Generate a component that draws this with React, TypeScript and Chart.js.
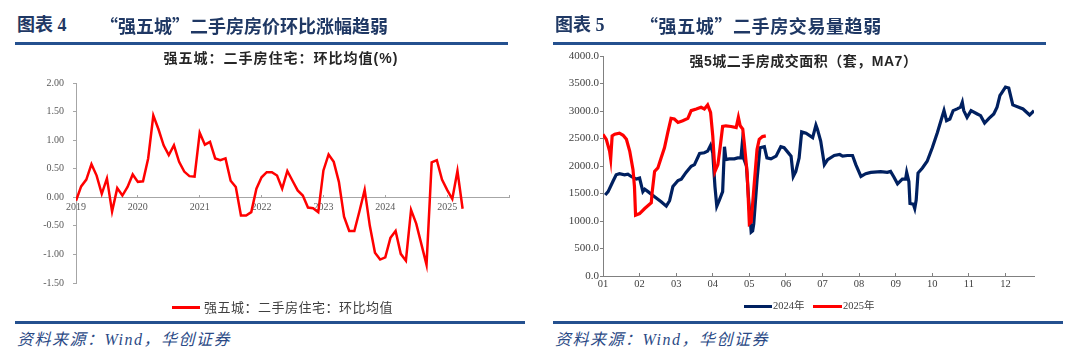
import React, { useEffect, useRef } from 'react';
import { Chart, registerables } from 'chart.js';

Chart.register(...registerables);

// ---------- Left chart data (monthly, 2019-01 .. 2025-04) ----------
const yearLabels = ['2019', '2020', '2021', '2022', '2023', '2024', '2025'];
const priceMoM = [
  -0.06, 0.19, 0.31, 0.58, 0.38, 0.06, 0.33, -0.25, 0.16, 0.03, 0.18, 0.40,
  0.27, 0.28, 0.68, 1.43, 1.19, 0.91, 0.74, 0.91, 0.62, 0.45, 0.37, 0.36,
  1.13, 0.92, 0.97, 0.68, 0.65, 0.68, 0.29, 0.18, -0.32, -0.32, -0.26, 0.15,
  0.35, 0.44, 0.44, 0.38, 0.15, 0.46, 0.29, 0.12, 0.03, -0.18, -0.19, -0.26,
  0.47, 0.75, 0.62, 0.27, -0.34, -0.59, -0.59, -0.24, 0.13, -0.50, -0.97, -1.09,
  -1.05, -0.71, -0.59, -0.99, -1.11, -0.22, -0.46, -0.82, -1.18, 0.61, 0.65, 0.31,
  0.13, -0.03, 0.46, -0.20,
];
const leftSeriesName = '强五城：二手房住宅：环比均值';

// ---------- Right chart data (time in months since Jan 1) ----------
const monthLabels = ['01', '02', '03', '04', '05', '06', '07', '08', '09', '10', '11', '12'];
const t2024 = [
  0.06, 0.14, 0.27, 0.36, 0.45, 0.59, 0.68, 0.77, 0.91, 1.00, 1.09, 1.14, 1.23, 1.41, 1.59, 1.73,
  1.82, 1.91, 2.05, 2.14, 2.27, 2.41, 2.50, 2.64, 2.77, 2.86, 2.94, 3.00, 3.06, 3.11, 3.18, 3.27,
  3.32, 3.36, 3.45, 3.59, 3.68, 3.77, 3.80, 3.84, 3.92, 3.98, 4.05, 4.09, 4.12, 4.21, 4.29, 4.41,
  4.48, 4.59, 4.73, 4.86, 4.95, 5.05, 5.14, 5.20, 5.27, 5.36, 5.43, 5.55, 5.73, 5.82, 5.86, 5.95,
  6.05, 6.14, 6.32, 6.47, 6.55, 6.68, 6.82, 6.91, 7.05, 7.18, 7.32, 7.59, 7.77, 7.86, 7.95, 8.05,
  8.18, 8.27, 8.30, 8.36, 8.39, 8.48, 8.52, 8.56, 8.61, 8.73, 8.86, 9.00, 9.14, 9.32, 9.39, 9.48,
  9.57, 9.68, 9.77, 9.82, 9.86, 9.95, 10.06, 10.23, 10.32, 10.43, 10.55, 10.68, 10.77, 10.85, 10.88, 11.00,
  11.09, 11.20, 11.48, 11.66, 11.78,
];
const v2024 = [
  1473, 1534, 1718, 1841, 1860, 1841, 1853, 1810, 1761, 1780, 1534, 1577, 1534, 1442, 1350, 1270,
  1369, 1626, 1737, 1761, 1884, 1995, 2025, 2228, 2240, 2270, 2375, 2240, 1626, 1270, 1381, 1534,
  2350, 2117, 2130, 2130, 2148, 2148, 2363, 2148, 2000, 1400, 798, 820, 951, 1749, 2332, 2350,
  2148, 2130, 2179, 2350, 2332, 2252, 2179, 1810, 1902, 2148, 2620, 2596, 2516, 2743, 2670, 2455,
  2025, 2117, 2191, 2209, 2179, 2191, 2191, 2025, 1810, 1860, 1884, 1896, 1884, 1902, 1800, 1675,
  1761, 1761, 1884, 1718, 1319, 1307, 1227, 1381, 1872, 1964, 2087, 2332, 2608, 3007, 2823, 2854,
  3007, 3038, 3069, 3161, 3007, 2884, 3007, 2946, 2915, 2780, 2866, 2946, 3069, 3283, 3313, 3435,
  3417, 3111, 3037, 2927, 3006,
];
const t2025 = [
  0.00, 0.09, 0.18, 0.21, 0.25, 0.32, 0.45, 0.55, 0.64, 0.73, 0.82, 0.86, 0.89, 1.00, 1.14, 1.32,
  1.34, 1.41, 1.50, 1.59, 1.68, 1.77, 1.86, 1.95, 2.05, 2.18, 2.32, 2.41, 2.55, 2.68, 2.77, 2.86,
  2.94, 3.00, 3.06, 3.14, 3.20, 3.27, 3.36, 3.50, 3.64, 3.70, 3.75, 3.82, 3.86, 3.94, 4.00, 4.05,
  4.12, 4.21, 4.27, 4.36, 4.45,
];
const v2025 = [
  2577, 2485, 2271, 2130, 2547, 2577, 2596, 2559, 2485, 2271, 1933, 1626, 1105, 1135, 1227, 1332,
  1503, 1902, 1964, 2148, 2332, 2608, 2866, 2854, 2792, 2823, 2866, 3007, 3038, 3069, 3038, 3111,
  2976, 2547, 1902, 2025, 2332, 2719, 2731, 2719, 2700, 2884, 2731, 2670, 2424, 1872, 951, 981,
  1565, 2301, 2485, 2535, 2547,
];
const rightSeriesNames = ['2024年', '2025年'];

const SERIF = '"Liberation Serif", "Times New Roman", "Noto Sans CJK SC", serif';
const CJK = '"Noto Sans CJK SC", sans-serif';
const TITLE_FONT = '"Liberation Sans", "Noto Sans CJK SC", sans-serif';
const NAVY = '#1F3864';
const RULE = '#24508F';
const RED = '#FF0000';
const BLUE = '#002060';

export default function App() {
  const leftRef = useRef<HTMLCanvasElement>(null);
  const rightRef = useRef<HTMLCanvasElement>(null);

  useEffect(() => {
    const left = new Chart(leftRef.current as HTMLCanvasElement, {
      type: 'line',
      data: {
        datasets: [
          {
            label: leftSeriesName,
            data: priceMoM.map((v, i) => ({ x: i, y: v })),
            borderColor: RED,
            backgroundColor: RED,
            borderWidth: 2.5,
            pointRadius: 0,
            tension: 0,
          },
        ],
      },
      options: {
        responsive: false,
        maintainAspectRatio: false,
        animation: false,
        layout: { padding: { left: 0, right: 31, top: 35, bottom: 7 } },
        scales: {
          x: {
            type: 'linear',
            position: { y: 0 } as any,
            min: 0,
            max: 84,
            ticks: {
              stepSize: 12,
              autoSkip: false,
              maxRotation: 0,
              padding: 7,
              color: '#595959',
              font: { family: SERIF, size: 10 },
              callback: (v: any) => {
                const i = Math.round(Number(v) / 12);
                return i < yearLabels.length ? yearLabels[i] : '';
              },
            },
            grid: { drawOnChartArea: false, drawTicks: true, tickLength: -3, color: '#A6A6A6' },
            border: { color: '#A6A6A6', width: 1 },
            afterFit: (s: any) => {
              s.height = 0;
            },
          },
          y: {
            min: -1.5,
            max: 2,
            ticks: {
              stepSize: 0.5,
              padding: 9,
              color: '#595959',
              font: { family: SERIF, size: 10 },
              callback: (v: any) => Number(v).toFixed(2),
            },
            grid: { drawOnChartArea: false, drawTicks: true, tickLength: 3, color: '#A6A6A6' },
            border: { color: '#A6A6A6', width: 1 },
            afterFit: (s: any) => {
              s.width = 76;
            },
          },
        },
        plugins: {
          legend: { display: false },
          tooltip: { enabled: false },
        },
      },
    });

    const right = new Chart(rightRef.current as HTMLCanvasElement, {
      type: 'line',
      data: {
        datasets: [
          {
            label: rightSeriesNames[0],
            data: t2024.map((t, i) => ({ x: t, y: v2024[i] })),
            borderColor: BLUE,
            backgroundColor: BLUE,
            borderWidth: 3.2,
            pointRadius: 0,
            tension: 0,
            order: 1,
          },
          {
            label: rightSeriesNames[1],
            data: t2025.map((t, i) => ({ x: t, y: v2025[i] })),
            borderColor: RED,
            backgroundColor: RED,
            borderWidth: 3.2,
            pointRadius: 0,
            tension: 0,
            order: 0,
          },
        ],
      },
      options: {
        responsive: false,
        maintainAspectRatio: false,
        animation: false,
        layout: { padding: { left: 0, right: 46, top: 16, bottom: 0 } },
        scales: {
          x: {
            type: 'linear',
            min: 0,
            max: 11.78,
            ticks: {
              stepSize: 1,
              includeBounds: false,
              autoSkip: false,
              maxRotation: 0,
              padding: 5,
              color: '#404040',
              font: { family: SERIF, size: 10.5 },
              callback: (v: any) => {
                const n = Number(v);
                return Number.isInteger(n) && monthLabels[n] ? monthLabels[n] : '';
              },
            },
            grid: { drawOnChartArea: false, drawTicks: true, tickLength: -3, color: '#808080' },
            border: { color: '#808080', width: 1 },
            afterFit: (s: any) => {
              s.height = 20;
            },
          },
          y: {
            min: 0,
            max: 4000,
            ticks: {
              stepSize: 500,
              padding: 1,
              color: '#404040',
              font: { family: SERIF, size: 11 },
              callback: (v: any) => Number(v).toFixed(1),
            },
            grid: { drawOnChartArea: false, drawTicks: true, tickLength: 3, color: '#808080' },
            border: { color: '#808080', width: 1 },
            afterFit: (s: any) => {
              s.width = 63;
            },
          },
        },
        plugins: {
          legend: { display: false },
          tooltip: { enabled: false },
        },
      },
    });

    return () => {
      left.destroy();
      right.destroy();
    };
  }, []);

  const abs = (s: React.CSSProperties): React.CSSProperties => ({ position: 'absolute', margin: 0, whiteSpace: 'nowrap', ...s });
  const swatch = (left: number, top: number, width: number, color: string) => (
    <div style={abs({ left, top, width, height: 3, background: color })} />
  );

  return (
    <div style={{ position: 'absolute', left: 0, top: 0, width: 1080, height: 361, background: '#fff', overflow: 'hidden' }}>
      <canvas ref={leftRef} width={540} height={250} style={abs({ left: 0, top: 48, width: 540, height: 250 })} />
      <canvas ref={rightRef} width={540} height={256} style={abs({ left: 540, top: 40, width: 540, height: 256 })} />

      {/* headers */}
      <div style={abs({ left: 17, top: 15, fontFamily: SERIF, fontWeight: 700, fontSize: 18, lineHeight: '20px', color: NAVY })}>图表 4</div>
      <div style={abs({ left: 100, top: 15, fontFamily: CJK, fontWeight: 700, fontSize: 18, lineHeight: '20px', color: NAVY })}>“强五城”二手房房价环比涨幅趋弱</div>
      <div style={abs({ left: 15, top: 42, width: 493, height: 3, background: RULE })} />

      <div style={abs({ left: 555, top: 15, fontFamily: SERIF, fontWeight: 700, fontSize: 18, lineHeight: '20px', color: NAVY })}>图表 5</div>
      <div style={abs({ left: 640, top: 15, fontFamily: CJK, fontWeight: 700, fontSize: 18, lineHeight: '20px', color: NAVY, letterSpacing: 0.6 })}>“强五城”二手房交易量趋弱</div>
      <div style={abs({ left: 553, top: 42, width: 493, height: 3, background: RULE })} />

      {/* chart titles */}
      <div style={abs({ left: 0, width: 562, top: 50, textAlign: 'center', fontFamily: TITLE_FONT, fontWeight: 700, fontSize: 14, lineHeight: '16px', letterSpacing: 1, color: '#262626' })}>强五城：二手房住宅：环比均值(%)</div>
      <div style={abs({ left: 540, width: 527, top: 53, textAlign: 'center', fontFamily: TITLE_FONT, fontWeight: 700, fontSize: 14, lineHeight: '16px', letterSpacing: 0.5, color: '#262626' })}>强5城二手房成交面积（套，MA7）</div>

      {/* legends */}
      {swatch(172, 305.5, 28, RED)}
      <div style={abs({ left: 204, top: 299, fontFamily: CJK, fontSize: 13, lineHeight: '16px', color: '#404040', letterSpacing: 0.5 })}>{leftSeriesName}</div>

      {swatch(744, 304.5, 28, BLUE)}
      <div style={abs({ left: 773, top: 299.5, fontFamily: SERIF, fontSize: 10.5, lineHeight: '12px', color: '#404040' })}>{rightSeriesNames[0]}</div>
      {swatch(813, 304.5, 29, RED)}
      <div style={abs({ left: 843, top: 299.5, fontFamily: SERIF, fontSize: 10.5, lineHeight: '12px', color: '#404040' })}>{rightSeriesNames[1]}</div>

      {/* footers */}
      <div style={abs({ left: 15, top: 321, width: 510, height: 3, background: RULE })} />
      <div style={abs({ left: 553, top: 321, width: 510, height: 3, background: RULE })} />
      <div style={abs({ left: 17, top: 330, fontFamily: SERIF, fontStyle: 'italic', fontSize: 16, lineHeight: '20px', letterSpacing: 1.5, color: '#2B4A86' })}>资料来源：Wind，华创证券</div>
      <div style={abs({ left: 555, top: 330, fontFamily: SERIF, fontStyle: 'italic', fontSize: 16, lineHeight: '20px', letterSpacing: 1.5, color: '#2B4A86' })}>资料来源：Wind，华创证券</div>
    </div>
  );
}
